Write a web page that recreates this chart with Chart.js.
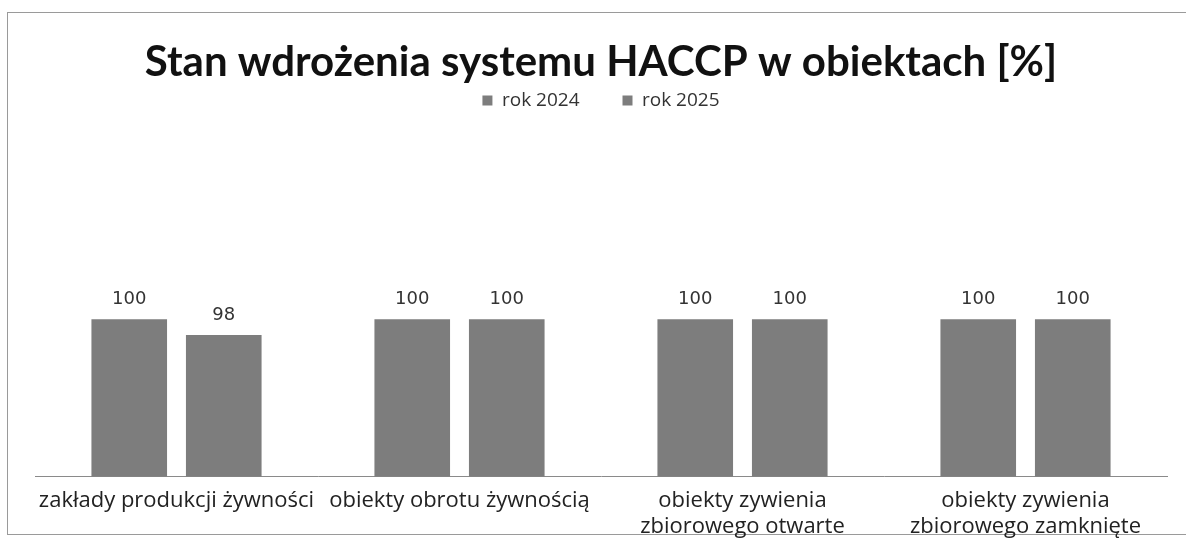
<!DOCTYPE html>
<html>
<head>
<meta charset="utf-8">
<script src="https://cdn.jsdelivr.net/npm/chart.js@4/dist/chart.umd.min.js"></script>
<style>
  html, body { margin: 0; padding: 0; background: #fff; }
  #wrap { position: relative; width: 1186px; height: 542px; }
  #frame { position: absolute; left: 7px; top: 12px; width: 1190px; height: 523px; border: 1px solid #9a9a9a; box-sizing: border-box; }
  #chart { position: absolute; left: 0; top: 0; }
</style>
</head>
<body>
<div id="wrap">
  <div id="frame"></div>
  <canvas id="chart" width="1186" height="542"></canvas>
</div>
<script>
var categories = [
    'zakłady produkcji żywności',
    'obiekty obrotu żywnością',
    ['obiekty zywienia', 'zbiorowego otwarte'],
    ['obiekty zywienia', 'zbiorowego zamknięte']
];
var rok2024 = [100, 100, 100, 100];
var rok2025 = [98, 100, 100, 100];

// value labels above bars
var valueLabels = {
    id: 'valueLabels',
    afterDatasetsDraw: function(chart) {
        var ctx = chart.ctx;
        ctx.save();
        ctx.font = '18px "DejaVu Sans"';
        ctx.fillStyle = '#333';
        ctx.textAlign = 'center';
        ctx.textBaseline = 'middle';
        chart.data.datasets.forEach(function(ds, i) {
            chart.getDatasetMeta(i).data.forEach(function(bar, j) {
                ctx.fillText(ds.data[j], bar.x, bar.y - 20);
            });
        });
        ctx.restore();
    }
};

new Chart(document.getElementById('chart').getContext('2d'), {
    type: 'bar',
    data: {
        labels: categories,
        datasets: [
            { label: 'rok 2024', data: rok2024, backgroundColor: '#7d7d7d' },
            { label: 'rok 2025', data: rok2025, backgroundColor: '#7d7d7d' }
        ]
    },
    options: {
        responsive: false,
        animation: false,
        layout: { padding: { left: 35, right: 19, top: 41, bottom: -1 } },
        datasets: { bar: { categoryPercentage: 0.668, barPercentage: 0.8 } },
        plugins: {
            title: {
                display: true,
                text: 'Stan wdrożenia systemu HACCP w obiektach [%]',
                color: '#111',
                font: { family: 'Lato', weight: 'bold', size: 42, lineHeight: 1 },
                padding: { top: 0, bottom: -35 }
            },
            legend: {
                display: true,
                labels: {
                    color: '#333',
                    font: { family: 'Open Sans', size: 19 },
                    boxWidth: 10, boxHeight: 10, padding: 43
                }
            },
            tooltip: { enabled: false }
        },
        scales: {
            x: {
                grid: { display: false },
                border: { display: true, color: '#8a8a8a', width: 1 },
                ticks: { color: '#222', font: { family: 'Open Sans', size: 22, lineHeight: 1.15 }, padding: 4, maxRotation: 0, autoSkip: false }
            },
            y: {
                display: false,
                min: 80,
                max: 125.35
            }
        }
    },
    plugins: [valueLabels]
});
</script>
</body>
</html>
